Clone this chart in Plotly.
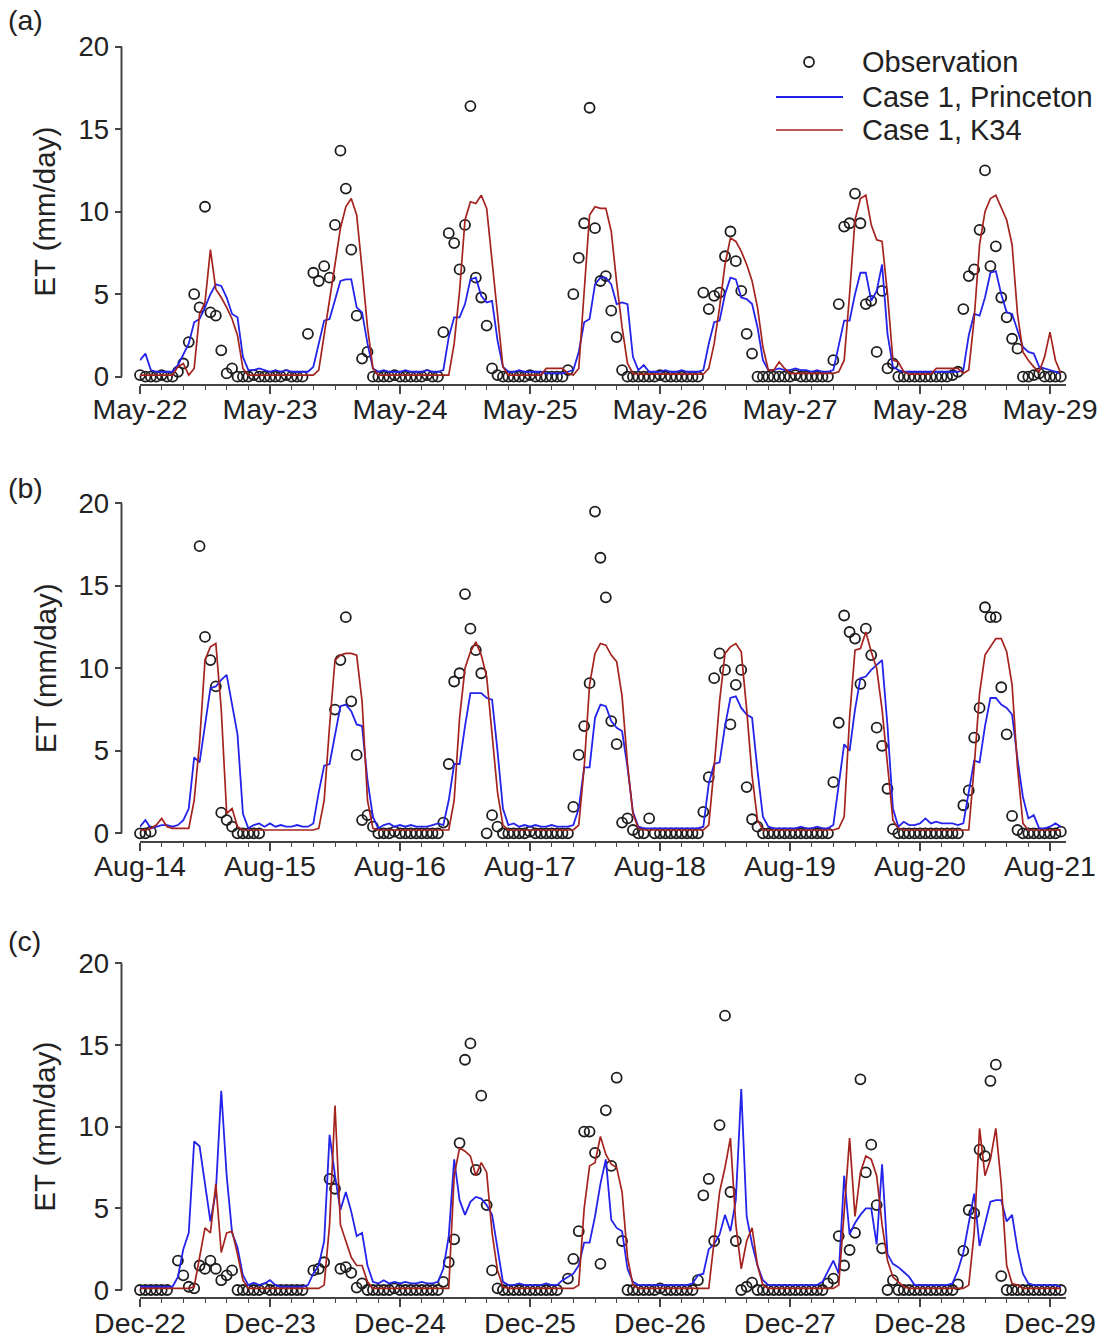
import plotly.graph_objects as go

W, H = 1100, 1342
HOURS = list(range(171))          # hourly samples from the start of each 7-day window
DAY_TICKS = [0, 1, 2, 3, 4, 5, 6, 7]

# ---------------- Panel (a) : May ----------------
A_LABELS = ["May-22", "May-23", "May-24", "May-25", "May-26", "May-27", "May-28", "May-29"]
A_PRINCETON = [
    1.0, 1.4, 0.4, 0.3, 0.3, 0.3, 0.3, 0.7, 1.4, 2.0, 3.3, 3.5, 4.2, 5.0, 5.6, 5.5, 4.8, 3.8, 3.6, 1.2, 0.4, 0.4, 0.5, 0.4,
    0.3, 0.4, 0.3, 0.4, 0.3, 0.3, 0.3, 0.3, 0.6, 2.0, 3.4, 3.5, 4.6, 5.8, 5.9, 5.9, 4.2, 3.9, 2.0, 0.5, 0.3, 0.4, 0.3, 0.3,
    0.3, 0.4, 0.3, 0.3, 0.3, 0.4, 0.3, 0.3, 0.4, 2.4, 3.6, 3.6, 4.4, 5.9, 6.0, 4.9, 4.5, 4.6, 2.2, 0.6, 0.3, 0.3, 0.4, 0.3,
    0.3, 0.3, 0.3, 0.2, 0.2, 0.2, 0.2, 0.3, 0.4, 1.5, 3.3, 3.5, 5.6, 6.0, 6.0, 5.6, 4.4, 4.5, 4.4, 1.2, 0.4, 0.7, 0.3, 0.3,
    0.3, 0.4, 0.3, 0.3, 0.4, 0.3, 0.3, 0.3, 0.4, 2.0, 3.3, 3.4, 5.0, 6.0, 5.9, 4.8, 4.7, 4.4, 3.0, 1.0, 0.4, 0.4, 0.5, 0.4,
    0.4, 0.5, 0.4, 0.4, 0.3, 0.4, 0.3, 0.3, 0.4, 2.0, 3.4, 3.4, 5.0, 6.3, 6.3, 4.6, 5.2, 6.8, 2.6, 0.6, 0.4, 0.3, 0.3, 0.3,
    0.3, 0.3, 0.3, 0.3, 0.3, 0.3, 0.3, 0.3, 0.4, 2.5, 3.8, 3.7, 4.8, 6.3, 6.4, 5.0, 3.9, 3.8, 2.8, 1.8, 1.5, 1.4, 0.6, 0.5,
    0.4, 0.3, 0.2]
A_K34 = [
    0.1, 0.1, 0.1, 0.1, 0.1, 0.1, 0.1, 0.6, 0.8, 0.1, 0.5, 3.8, 4.5, 7.7, 5.3, 4.8, 4.2, 3.5, 2.5, 0.5, 0.1, 0.1, 0.1, 0.1,
    0.1, 0.1, 0.1, 0.1, 0.1, 0.1, 0.1, 0.1, 0.1, 0.4, 2.5, 4.5, 6.8, 9.0, 10.3, 10.8, 9.8, 6.5, 3.0, 0.5, 0.1, 0.1, 0.1, 0.1,
    0.1, 0.1, 0.1, 0.1, 0.1, 0.1, 0.1, 0.1, 0.1, 0.1, 2.0, 5.2, 9.5, 10.6, 10.5, 11.0, 10.2, 7.0, 3.8, 0.6, 0.1, 0.1, 0.1, 0.1,
    0.1, 0.1, 0.1, 0.5, 0.5, 0.5, 0.5, 0.2, 0.1, 0.5, 5.0, 9.8, 10.3, 10.2, 10.2, 8.8, 5.7, 3.0, 0.8, 0.2, 0.15, 0.15, 0.15, 0.15,
    0.15, 0.15, 0.15, 0.15, 0.15, 0.15, 0.15, 0.15, 0.15, 0.5, 2.0, 4.2, 6.8, 8.4, 8.2, 7.6, 6.8, 5.8, 4.2, 1.8, 0.4, 0.4, 0.9, 0.5,
    0.2, 0.2, 0.2, 0.2, 0.2, 0.2, 0.2, 0.2, 0.2, 0.3, 1.0, 5.0, 9.5, 10.8, 11.0, 9.2, 8.3, 8.2, 5.0, 1.0, 0.9, 0.3, 0.15, 0.15,
    0.15, 0.15, 0.15, 0.5, 0.5, 0.5, 0.5, 0.5, 0.2, 0.4, 3.5, 8.0, 10.0, 10.8, 11.0, 10.2, 9.5, 8.0, 3.8, 1.5, 1.0, 0.6, 0.3, 1.2,
    2.7, 1.0, 0.2]
A_OBS = [
    0.1, 0.0, 0.0, 0.0, 0.1, 0.0, 0.0, 0.3,
    0.8, 2.1, 5.0, 4.2, 10.3, 3.9, 3.7, 1.6, 0.2, 0.5, 0.0,
    0.0, 0.0, 0.1, 0.0, 0.0, 0.0, 0.0, 0.0, 0.1, 0.0, 0.0, 0.0,
    2.6, 6.3, 5.8, 6.7, 6.0, 9.2, 13.7, 11.4, 7.7, 3.7, 1.1, 1.5, 0.0,
    0.0, 0.0, 0.0, 0.1, 0.0, 0.0, 0.0, 0.0, 0.0, 0.1, 0.0, 0.0,
    2.7, 8.7, 8.1, 6.5, 9.2, 16.4, 6.0, 4.8, 3.1, 0.5, 0.1, 0.0,
    0.0, 0.0, 0.0, 0.0, 0.1, 0.0, 0.0, 0.0, 0.0, 0.0, 0.0,
    0.4, 5.0, 7.2, 9.3, 16.3, 9.0, 5.8, 6.1, 4.0, 2.4, 0.4, 0.0,
    0.0, 0.0, 0.0, 0.0, 0.0, 0.1, 0.0, 0.0, 0.0, 0.0, 0.0, 0.0, 0.0,
    5.1, 4.1, 4.9, 5.1, 7.3, 8.8, 7.0, 5.2, 2.6, 1.4, 0.0,
    0.0, 0.0, 0.0, 0.0, 0.0, 0.0, 0.1, 0.0, 0.0, 0.0, 0.0, 0.0, 0.0,
    1.0, 4.4, 9.1, 9.3, 11.1, 9.3, 4.4, 4.6, 1.5, 5.2, 0.5, 0.8, 0.0,
    0.0, 0.0, 0.0, 0.0, 0.0, 0.0, 0.0, 0.0, 0.0, 0.1,
    0.3, 4.1, 6.1, 6.5, 8.9, 12.5, 6.7, 7.9, 4.8, 3.6, 2.3, 1.7,
    0.0, 0.0, 0.1, 0.2, 0.0, 0.0, 0.0, 0.0]

# ---------------- Panel (b) : August ----------------
B_LABELS = ["Aug-14", "Aug-15", "Aug-16", "Aug-17", "Aug-18", "Aug-19", "Aug-20", "Aug-21"]
B_PRINCETON = [
    0.4, 0.8, 0.3, 0.4, 0.5, 0.5, 0.4, 0.5, 0.8, 1.5, 4.6, 4.3, 6.5, 8.8, 8.9, 9.3, 9.6, 7.9, 6.0, 1.2, 0.3, 0.5, 0.6, 0.4,
    0.6, 0.4, 0.5, 0.4, 0.4, 0.5, 0.4, 0.4, 0.6, 2.5, 4.1, 4.2, 6.0, 7.7, 7.8, 7.4, 6.6, 6.5, 3.2, 1.0, 0.3, 0.5, 0.6, 0.4,
    0.5, 0.4, 0.5, 0.4, 0.4, 0.4, 0.5, 0.6, 0.5, 2.0, 4.2, 4.2, 6.5, 8.5, 8.5, 8.5, 8.2, 8.1, 5.0, 1.5, 0.5, 0.6, 0.4, 0.5,
    0.4, 0.5, 0.4, 0.4, 0.5, 0.4, 0.4, 0.4, 0.5, 1.5, 4.0, 4.0, 7.0, 7.8, 7.7, 6.8, 6.4, 6.2, 4.0, 1.3, 0.4, 0.3, 0.3, 0.3,
    0.3, 0.3, 0.3, 0.3, 0.3, 0.3, 0.3, 0.3, 0.4, 3.0, 4.2, 4.3, 6.5, 8.2, 8.3, 7.6, 7.2, 7.0, 3.8, 1.0, 0.4, 0.3, 0.3, 0.3,
    0.3, 0.3, 0.4, 0.3, 0.3, 0.4, 0.3, 0.3, 0.5, 3.0, 5.4, 5.0, 7.5, 9.4, 9.5, 9.9, 10.2, 10.5, 6.5, 1.5, 0.4, 0.7, 0.5, 0.5,
    0.6, 0.9, 0.6, 0.7, 0.6, 0.6, 0.6, 0.5, 0.6, 2.5, 4.4, 4.3, 6.5, 8.2, 8.2, 7.8, 7.6, 7.2, 4.5, 2.2, 0.9, 1.1, 0.3, 0.3,
    0.4, 0.6, 0.4]
B_K34 = [
    0.2, 0.2, 0.3, 0.5, 0.9, 0.4, 0.3, 0.3, 0.3, 0.3, 2.0, 5.5, 10.5, 11.3, 11.5, 7.5, 1.2, 1.5, 0.4, 0.2, 0.2, 0.2, 0.2, 0.2,
    0.2, 0.2, 0.2, 0.2, 0.2, 0.2, 0.2, 0.2, 0.2, 0.3, 2.0, 6.5, 10.5, 10.8, 10.9, 10.9, 10.8, 8.0, 2.0, 0.3, 0.2, 0.2, 0.2, 0.2,
    0.2, 0.2, 0.2, 0.2, 0.2, 0.2, 0.2, 0.2, 0.2, 0.2, 2.0, 7.0, 10.0, 11.0, 11.6, 10.8, 9.5, 6.0, 2.5, 0.5, 0.2, 0.2, 0.2, 0.2,
    0.2, 0.2, 0.2, 0.2, 0.2, 0.2, 0.2, 0.2, 0.2, 0.5, 4.0, 9.0, 10.9, 11.5, 11.4, 10.8, 10.4, 8.3, 4.2, 1.2, 0.3, 0.2, 0.2, 0.2,
    0.2, 0.2, 0.2, 0.2, 0.2, 0.2, 0.2, 0.2, 0.2, 0.5, 4.0, 8.0, 10.9, 11.3, 11.5, 11.0, 7.5, 3.5, 0.8, 0.2, 0.2, 0.2, 0.2, 0.2,
    0.2, 0.2, 0.2, 0.2, 0.2, 0.2, 0.2, 0.2, 0.2, 0.3, 1.0, 7.0, 11.1, 11.2, 12.2, 11.0, 10.0, 7.5, 4.0, 0.8, 0.3, 0.2, 0.2, 0.2,
    0.2, 0.2, 0.2, 0.2, 0.2, 0.2, 0.2, 0.2, 0.2, 0.2, 4.0, 8.5, 10.8, 11.3, 11.8, 11.8, 11.0, 9.0, 4.0, 0.6, 0.2, 0.2, 0.2, 0.2,
    0.2, 0.2, 0.2]
B_OBS = [
    0.0, 0.0, 0.1,
    None, None, None, None, None, None, None, None,
    17.4, 11.9, 10.5, 8.9, 1.25, 0.8, 0.4, 0.0, 0.0, 0.0, 0.0, 0.0,
    None, None, None, None, None, None, None, None, None, None, None, None, None,
    7.5, 10.5, 13.1, 8.0, 4.75, 0.8, 1.1, 0.4,
    0.0, 0.0, 0.0, 0.1, 0.0, 0.0, 0.0, 0.0, 0.0, 0.0, 0.0, 0.0,
    0.65, 4.2, 9.2, 9.7, 14.5, 12.4, 11.1, 9.7, 0.0, 1.1, 0.4,
    0.0, 0.0, 0.0, 0.0, 0.0, 0.1, 0.0, 0.0, 0.0, 0.0, 0.0, 0.0, 0.0,
    1.6, 4.75, 6.5, 9.1, 19.5, 16.7, 14.3, 6.8, 5.4, 0.65, 0.9, 0.2, 0.0, 0.0, 0.9,
    0.0, 0.0, 0.0, 0.0, 0.0, 0.0, 0.0, 0.0, 0.0,
    1.3, 3.4, 9.4, 10.9, 9.9, 6.6, 9.0, 9.9, 2.8, 0.85, 0.4,
    0.0, 0.0, 0.0, 0.0, 0.0, 0.0, 0.0, 0.0, 0.0, 0.0, 0.0, 0.0, 0.0,
    3.1, 6.7, 13.2, 12.2, 11.8, 9.05, 12.4, 10.8, 6.4, 5.3, 2.7, 0.25,
    0.0, 0.0, 0.0, 0.0, 0.0, 0.0, 0.0, 0.0, 0.0, 0.0, 0.0, 0.0,
    1.7, 2.6, 5.8, 7.6, 13.7, 13.1, 13.1, 8.85, 6.0, 1.05, 0.2,
    0.0, 0.0, 0.0, 0.0, 0.0, 0.0, 0.0, 0.1]

# ---------------- Panel (c) : December ----------------
C_LABELS = ["Dec-22", "Dec-23", "Dec-24", "Dec-25", "Dec-26", "Dec-27", "Dec-28", "Dec-29"]
C_PRINCETON = [
    0.2, 0.2, 0.2, 0.2, 0.2, 0.2, 0.2, 0.8, 2.5, 3.5, 9.1, 8.8, 6.5, 4.2, 6.0, 12.2, 7.0, 3.5, 2.6, 0.9, 0.3, 0.45, 0.3, 0.4,
    0.6, 0.3, 0.2, 0.2, 0.2, 0.2, 0.2, 0.3, 1.0, 1.5, 3.0, 9.5, 7.0, 4.9, 6.0, 4.8, 3.3, 3.5, 1.5, 0.5, 0.4, 0.6, 0.4, 0.5,
    0.4, 0.5, 0.4, 0.4, 0.5, 0.4, 0.4, 0.5, 1.3, 3.3, 8.0, 5.5, 4.6, 5.4, 5.7, 5.6, 5.2, 4.6, 2.5, 0.5, 0.3, 0.3, 0.4, 0.3,
    0.3, 0.3, 0.3, 0.4, 0.3, 0.3, 0.6, 0.8, 1.0, 1.5, 2.9, 2.9, 4.5, 6.5, 8.0, 4.3, 3.8, 3.6, 1.3, 0.5, 0.3, 0.3, 0.3, 0.3,
    0.3, 0.3, 0.3, 0.3, 0.3, 0.3, 0.4, 0.9, 1.0, 2.5, 2.8, 3.4, 4.6, 3.6, 5.5, 12.3, 4.5, 2.8, 1.5, 0.6, 0.3, 0.3, 0.3, 0.3,
    0.3, 0.3, 0.3, 0.3, 0.3, 0.3, 0.5, 1.2, 1.8, 1.0, 7.0, 3.4, 4.1, 4.6, 5.0, 5.0, 2.8, 7.7, 2.2, 1.6, 1.4, 1.1, 0.8, 0.3,
    0.3, 0.3, 0.3, 0.3, 0.3, 0.3, 0.4, 1.2, 2.3, 4.0, 5.9, 2.7, 4.0, 5.4, 5.5, 5.5, 4.2, 4.6, 2.5, 1.0, 0.4, 0.3, 0.3, 0.3,
    0.3, 0.3, 0.2]
C_K34 = [
    0.1, 0.1, 0.1, 0.1, 0.1, 0.1, 0.1, 0.1, 0.1, 0.1, 0.2, 2.0, 3.8, 3.5, 6.5, 2.3, 3.5, 3.6, 2.2, 0.6, 0.1, 0.1, 0.1, 0.1,
    0.1, 0.1, 0.1, 0.1, 0.1, 0.1, 0.1, 0.1, 0.1, 0.1, 0.3, 4.0, 11.3, 4.0, 3.0, 2.0, 1.5, 1.5, 0.5, 0.1, 0.1, 0.1, 0.1, 0.1,
    0.1, 0.1, 0.1, 0.1, 0.1, 0.1, 0.1, 0.1, 0.1, 0.1, 7.0, 8.7, 8.5, 8.2, 7.0, 7.8, 7.2, 3.5, 1.2, 0.2, 0.1, 0.1, 0.1, 0.1,
    0.1, 0.1, 0.1, 0.1, 0.1, 0.1, 0.1, 0.1, 0.1, 0.3, 5.0, 7.6, 7.8, 9.4, 8.3, 7.7, 7.5, 6.0, 2.0, 0.3, 0.1, 0.1, 0.1, 0.1,
    0.1, 0.1, 0.1, 0.1, 0.1, 0.1, 0.1, 0.1, 0.1, 0.1, 3.0, 6.0, 7.5, 9.3, 4.0, 1.3, 3.0, 3.8, 1.5, 0.3, 0.1, 0.1, 0.1, 0.1,
    0.1, 0.1, 0.1, 0.1, 0.1, 0.1, 0.1, 0.1, 0.1, 0.3, 5.0, 9.3, 4.5, 7.2, 8.2, 8.0, 7.0, 4.0, 1.8, 0.8, 0.5, 0.2, 0.1, 0.1,
    0.1, 0.1, 0.1, 0.1, 0.1, 0.1, 0.1, 0.1, 0.1, 0.3, 3.5, 9.9, 7.0, 8.0, 9.9, 6.5, 1.5, 0.4, 0.3, 0.1, 0.1, 0.1, 0.1, 0.1,
    0.1, 0.1, 0.1]
C_OBS = [
    0.0, 0.0, 0.0, 0.0, 0.0, 0.0,
    None,
    1.8, 0.9, 0.2, 0.1, 1.5, 1.3, 1.8, 1.3, 0.6, 0.9, 1.2,
    0.0, 0.0, 0.0, 0.0, 0.0, 0.1, 0.0, 0.0, 0.0, 0.0, 0.0, 0.0, 0.0,
    None,
    1.2, 1.3, 1.7, 6.8, 6.2, 1.3, 1.4, 1.05, 0.15, 0.4,
    0.0, 0.0, 0.0, 0.0, 0.0, 0.1, 0.0, 0.0, 0.0, 0.0, 0.0, 0.0, 0.0, 0.0,
    0.5, 1.7, 3.1, 9.0, 14.1, 15.1, 7.35, 11.9, 5.2, 1.2, 0.1,
    0.0, 0.0, 0.0, 0.0, 0.0, 0.0, 0.0, 0.0, 0.0, 0.0, 0.0,
    None,
    0.7, 1.9, 3.6, 9.7, 9.7, 8.4, 1.6, 11.0, 7.6, 13.0, 3.0, 0.0,
    0.0, 0.0, 0.0, 0.0, 0.0, 0.1, 0.0, 0.0, 0.0, 0.0, 0.0, 0.0,
    0.6, 5.8, 6.8, 3.0, 10.1, 16.8, 6.0, 3.0, 0.0, 0.2, 0.45,
    0.0, 0.0, 0.0, 0.0, 0.0, 0.0, 0.0, 0.0, 0.0, 0.0, 0.0, 0.0, 0.0,
    0.4, 0.7, 3.3, 1.5, 2.45, 3.5, 12.9, 7.2, 8.9, 5.2, 2.55, 0.0, 0.6, 0.0,
    0.0, 0.0, 0.0, 0.0, 0.0, 0.0, 0.0, 0.0, 0.0, 0.0,
    0.35, 2.4, 4.9, 4.7, 8.6, 8.2, 12.8, 13.8, 0.85,
    0.0, 0.0, 0.0, 0.0, 0.0, 0.0, 0.0, 0.0, 0.0, 0.0, 0.0]

Y_TICKS = [0, 5, 10, 15, 20]
PANEL_TAGS = ["(a)", "(b)", "(c)"]
SERIES_NAMES = ["Observation", "Case 1, Princeton", "Case 1, K34"]

# ---------------- styling / layout constants ----------------
FONT = "Liberation Sans, Arial, sans-serif"
TXT = "#222222"
AXC = "#454545"
OBS_C = "#1e1e1e"
BLUE = "rgb(35,35,235)"
RED = "rgb(165,35,30)"
YMIN, YMAX = -0.45, 20.2
XMAX = 7.12
X_LEFT_PX, PX_PER_DAY = 140.0, 130.0
YAXIS_PX = 121.5
# pixel row of value 0 and pixels per unit for the three panels
PANEL_GEOM = [(376.7, 16.5), (833.3, 16.5), (1290.0, 16.33)]

panels = [
    (A_LABELS, A_OBS, A_PRINCETON, A_K34),
    (B_LABELS, B_OBS, B_PRINCETON, B_K34),
    (C_LABELS, C_OBS, C_PRINCETON, C_K34),
]

fig = go.Figure()
x_days = [h / 24.0 for h in HOURS]
x_dom = [X_LEFT_PX / W, (X_LEFT_PX + XMAX * PX_PER_DAY) / W]

shapes, annotations = [], []
for i, (labels, obs, pri, k34) in enumerate(panels):
    n = "" if i == 0 else str(i + 1)
    xa, ya = "x" + n, "y" + n
    zero_px, ppu = PANEL_GEOM[i]
    bottom_px = zero_px - YMIN * ppu
    top_px = zero_px - YMAX * ppu
    y_dom = [1 - bottom_px / H, 1 - top_px / H]

    fig.add_trace(go.Scatter(
        x=x_days, y=obs, mode="markers", name=SERIES_NAMES[0], showlegend=False,
        xaxis=xa, yaxis=ya, cliponaxis=False,
        marker=dict(symbol="circle-open", size=10, color=OBS_C, line=dict(width=1.8))))
    fig.add_trace(go.Scatter(
        x=x_days, y=pri, mode="lines", name=SERIES_NAMES[1], showlegend=False,
        xaxis=xa, yaxis=ya, line=dict(color=BLUE, width=1.8)))
    fig.add_trace(go.Scatter(
        x=x_days, y=k34, mode="lines", name=SERIES_NAMES[2], showlegend=False,
        xaxis=xa, yaxis=ya, line=dict(color=RED, width=1.7)))

    fig.layout["xaxis" + n] = dict(
        domain=x_dom, range=[0, XMAX], anchor=ya, automargin=False,
        showline=True, linecolor=AXC, linewidth=2,
        showgrid=False, zeroline=False,
        tickmode="array", tickvals=DAY_TICKS, ticktext=labels,
        ticks="outside", ticklen=8, tickwidth=1.5, tickcolor=AXC,
        ticklabelstandoff=-9,
        tickfont=dict(family=FONT, size=28.5, color=TXT),
        minor=dict(tickmode="linear", tick0=0, dtick=1 / 6, ticks="outside",
                   ticklen=4, tickwidth=1.2, tickcolor=AXC, showgrid=False),
    )
    fig.layout["yaxis" + n] = dict(
        domain=y_dom, range=[YMIN, YMAX], anchor="free", position=YAXIS_PX / W,
        automargin=False, showline=False, showgrid=False, zeroline=False,
        tickmode="array", tickvals=Y_TICKS,
        ticks="outside", ticklen=7, tickwidth=1.5, tickcolor=AXC,
        tickfont=dict(family=FONT, size=27.5, color=TXT),
    )
    # y-axis spine spanning 0..20 only (detached from the x axis, as in the original)
    shapes.append(dict(type="line", xref="paper", yref="paper",
                       x0=YAXIS_PX / W, x1=YAXIS_PX / W,
                       y0=1 - zero_px / H, y1=1 - (zero_px - 20 * ppu) / H,
                       line=dict(color=AXC, width=2)))
    mid_px = zero_px - 10 * ppu
    annotations.append(dict(text="ET (mm/day)", textangle=-90, xref="paper", yref="paper",
                            x=45 / W, y=1 - mid_px / H, showarrow=False,
                            xanchor="center", yanchor="middle",
                            font=dict(family=FONT, size=29.5, color=TXT)))
    tag_px = [20, 488, 941][i]
    annotations.append(dict(text=PANEL_TAGS[i], xref="paper", yref="paper",
                            x=6 / W, y=1 - tag_px / H, showarrow=False,
                            xanchor="left", yanchor="middle",
                            font=dict(family=FONT, size=28.5, color=TXT)))

# ---------------- legend (top right of panel a), drawn in page coordinates ----------------
LEG_ROWS_PX = [62, 97, 130]
LEG_SAMPLE_X = (776, 843)
LEG_TEXT_X = 860
# circle symbol for "Observation"
cx, cy, r = sum(LEG_SAMPLE_X) / 2 - 0.5, LEG_ROWS_PX[0], 5
shapes.append(dict(type="circle", xref="paper", yref="paper",
                   x0=(cx - r) / W, x1=(cx + r) / W, y0=1 - (cy + r) / H, y1=1 - (cy - r) / H,
                   line=dict(color=OBS_C, width=1.8), fillcolor="rgba(0,0,0,0)"))
for row, col, wdt in [(1, BLUE, 1.8), (2, RED, 1.7)]:
    yy = 1 - LEG_ROWS_PX[row] / H
    shapes.append(dict(type="line", xref="paper", yref="paper",
                       x0=LEG_SAMPLE_X[0] / W, x1=LEG_SAMPLE_X[1] / W, y0=yy, y1=yy,
                       line=dict(color=col, width=wdt)))
for row, name in enumerate(SERIES_NAMES):
    annotations.append(dict(text=name, xref="paper", yref="paper",
                            x=LEG_TEXT_X / W, y=1 - LEG_ROWS_PX[row] / H, showarrow=False,
                            xanchor="left", yanchor="middle",
                            font=dict(family=FONT, size=29, color=TXT)))

fig.update_layout(
    template="none",
    width=W, height=H, autosize=False,
    margin=dict(l=0, r=0, t=0, b=0, pad=0),
    paper_bgcolor="white", plot_bgcolor="white",
    shapes=shapes, annotations=annotations,
    showlegend=False,
)

fig.write_html("out.html")
